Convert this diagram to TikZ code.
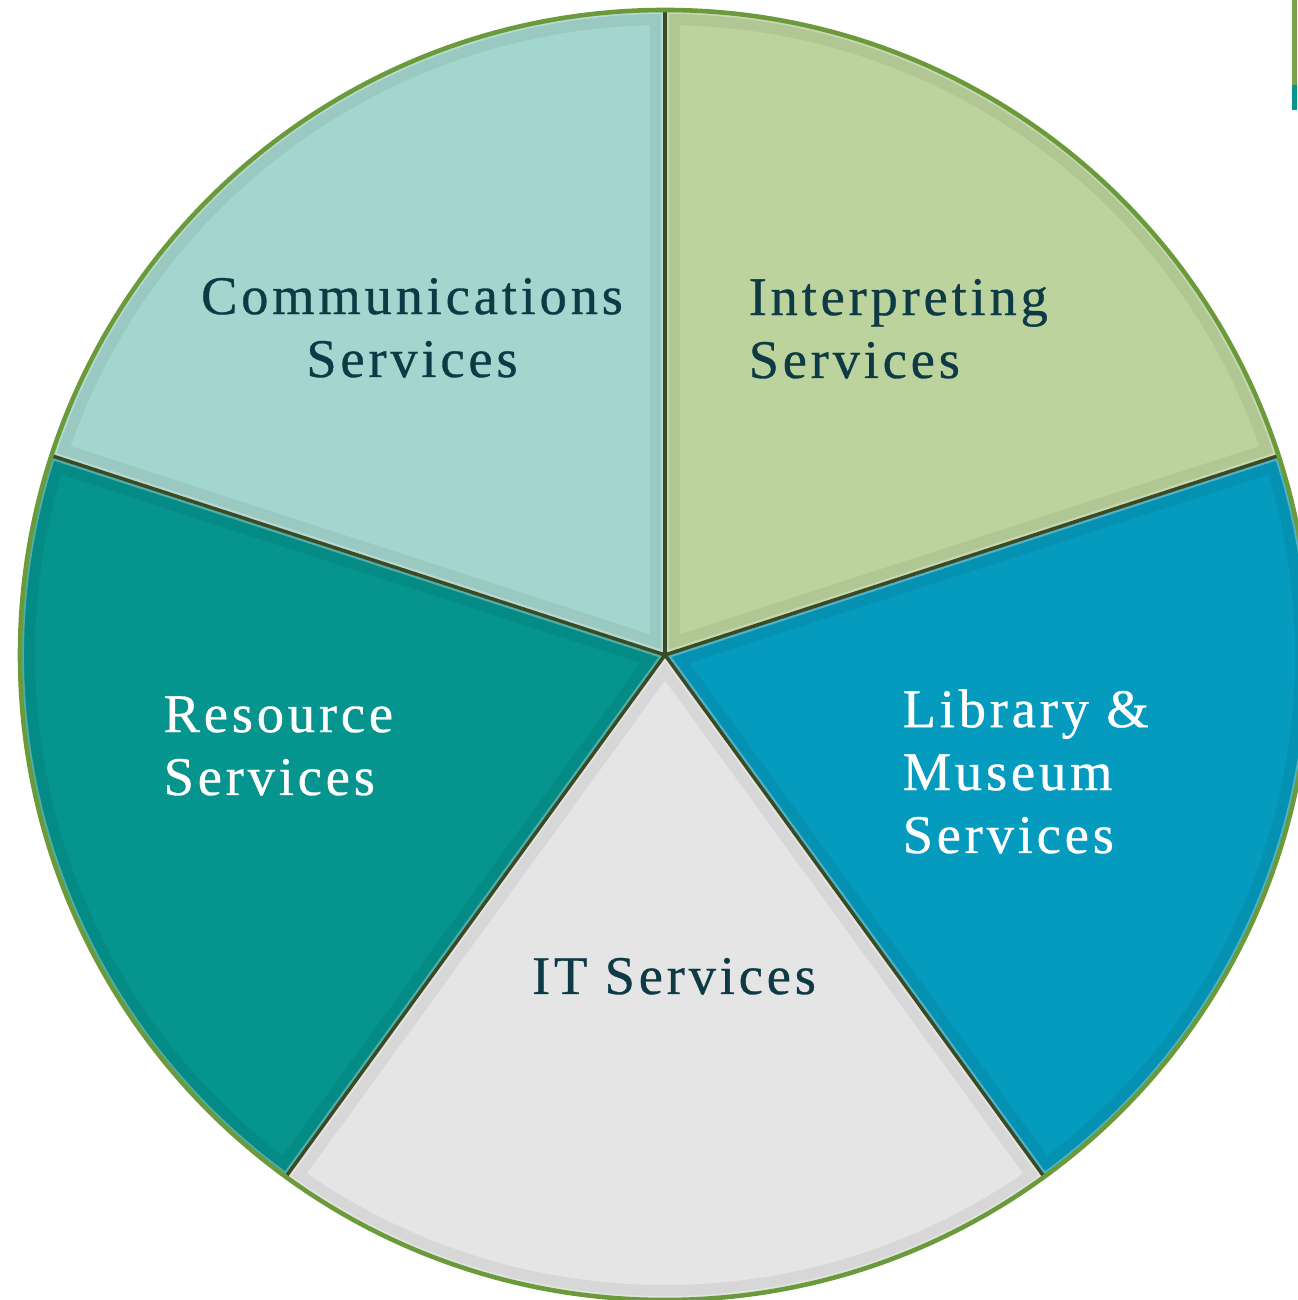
\documentclass[tikz,border=0pt]{standalone}
\usepackage{fontspec}
\setmainfont{Liberation Serif}[LetterSpace=7, FakeBold=0.6]
\usetikzlibrary{positioning}
\definecolor{commfill}{HTML}{A3D6CE}
\definecolor{interpfill}{HTML}{BCD39D}
\definecolor{libfill}{HTML}{059BBE}
\definecolor{itfill}{HTML}{E5E5E5}
\definecolor{resfill}{HTML}{06948F}
\definecolor{rimgreen}{HTML}{6A9A3A}
\definecolor{seamdark}{HTML}{3A4A22}
\definecolor{textdark}{HTML}{0D3A45}
\tikzset{
  piece/.style={fill=#1},
  seam/.style={draw=seamdark, line width=1pt},
  rim/.style={draw=rimgreen, line width=1.3pt},
  lbl/.style={font=\fontsize{15.5}{17.9}\selectfont, text=textdark, inner sep=0pt},
  lblw/.style={lbl, text=white}
}

\begin{document}
\begin{tikzpicture}
\useasboundingbox (0,0) rectangle (12.97,13);
\coordinate (c) at (6.65,6.45);
% slices
\foreach \a/\b/\col in {90/162/commfill, 18/90/interpfill, -54/18/libfill, -126/-54/itfill, 162/234/resfill}{
  \begin{scope}
    \clip (c) -- ++(\a:6.45) arc[start angle=\a, end angle=\b, radius=6.45] -- cycle;
    \fill[piece=\col] (c) -- ++(\a:6.45) arc[start angle=\a, end angle=\b, radius=6.45] -- cycle;
    \draw[black, opacity=0.06, line width=0.3cm] (c) -- ++(\a:6.45) arc[start angle=\a, end angle=\b, radius=6.45] -- cycle;
    \draw[white, opacity=0.3, line width=0.08cm] (c) -- ++(\a:6.45) arc[start angle=\a, end angle=\b, radius=6.45] -- cycle;
  \end{scope}
}
% seams and rim
\foreach \a in {90,18,-54,-126,162}
  \draw[seam] (c) -- ++(\a:6.45);
\draw[rim] (c) circle[radius=6.45];
% fragment at right edge
\fill[rimgreen!90!white] (12.92,13) rectangle (12.97,12.15);
\fill[resfill] (12.92,12.15) rectangle (12.97,11.9);
% labels
\node[lbl, align=center, anchor=base] (comm) at (4.12,9.23) {Communications\\Services};
\node[lbl, align=left, anchor=base west] (interp) at (7.48,9.22) {Interpreting\\Services};
\node[lblw, align=left, anchor=base west] (lib) at (9.02,4.47) {Library \&\\Museum\\Services};
\node[lblw, align=left, anchor=base west] (res) at (1.63,5.05) {Resource\\Services};
\node[lbl, anchor=base] (it) at (6.74,3.06) {IT Services};
\end{tikzpicture}
\end{document}
